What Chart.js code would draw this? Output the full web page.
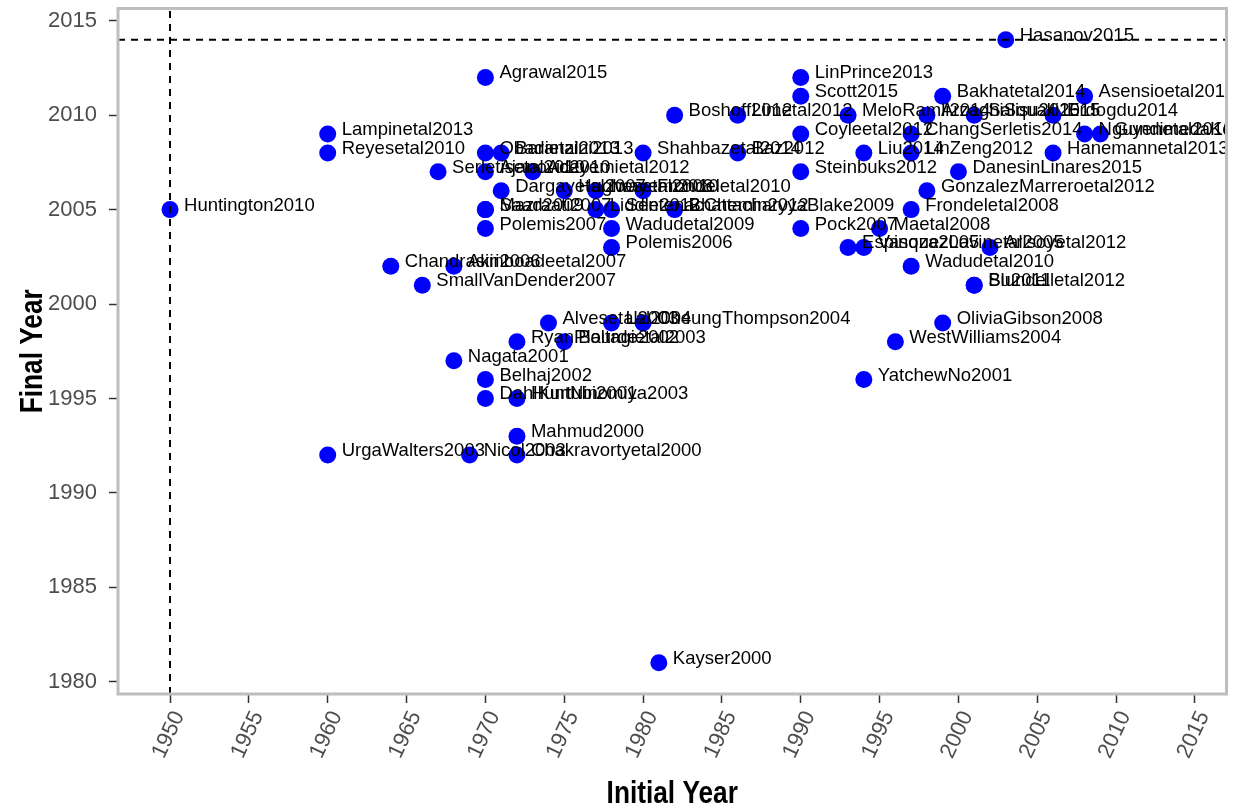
<!DOCTYPE html>
<html>
<head>
<meta charset="utf-8">
<script src="https://cdn.jsdelivr.net/npm/chart.js@4.4.1/dist/chart.umd.min.js"></script>
<style>
  html, body { margin: 0; padding: 0; background: #ffffff; }
  #wrap { width: 1235px; height: 807px; }
</style>
</head>
<body>
<div id="wrap"><canvas id="chart" width="1235" height="807"></canvas></div>
<script>
// Study labels with the first and last year of each study's sample
const studies = [
  "Huntington2010", "Lampinetal2013", "Reyesetal2010", "UrgaWalters2003",
  "Chandrasiri2006", "SmallVanDender2007", "Serletisetal2010", "Nagata2001",
  "Akinboadeetal2007", "Nicol2003", "Agrawal2015", "Obadietal2013",
  "Baranzini2013", "Ajanovic2010", "Saad2009", "Mazraati2007",
  "Polemis2007", "Belhaj2002", "DahlKurtubi2001", "Dargayetal2007",
  "RyanPlourde2002", "HuntNinomiya2003", "Mahmud2000", "Chakravortyetal2000",
  "Adeyemietal2012", "Alvesetal2003", "Baltagietal2003", "Hughesetal2008",
  "Iwayemi2010", "Liddle2012", "SentenacChemin2012", "Wadudetal2009",
  "Polemis2006", "Lal2004", "CheungThompson2004", "Frondeletal2010",
  "Shahbazetal2014", "Kayser2000", "Boshoff2012", "BhattacharyyaBlake2009",
  "Limetal2012", "Baz2012", "LinPrince2013", "Scott2015",
  "Coyleetal2012", "Steinbuks2012", "Pock2007", "MeloRamli2014",
  "Espinoza2005", "VasquezLavinetal2005", "Liu2014", "YatchewNo2001",
  "Maetal2008", "WestWilliams2004", "ChangSerletis2014", "LinZeng2012",
  "Frondeletal2008", "Wadudetal2010", "ArzaghiSqualli2015", "GonzalezMarreroetal2012",
  "Bakhatetal2014", "OliviaGibson2008", "DanesinLinares2015", "Salisu2015",
  "Su2011", "Blundelletal2012", "Arisoyetal2012", "Hasanov2015",
  "Erdogdu2014", "Hanemannetal2013", "Asensioetal2014", "Nguyenetal2010",
  "GundimedaKöhlin2008"
];
const initialYear = [
  1950, 1960, 1960, 1960,
  1964, 1966, 1967, 1968,
  1968, 1969, 1970, 1970,
  1971, 1970, 1970, 1970,
  1970, 1970, 1970, 1971,
  1972, 1972, 1972, 1972,
  1973, 1974, 1975, 1975,
  1977, 1977, 1978, 1978,
  1978, 1978, 1980, 1980,
  1980, 1981, 1982, 1982,
  1986, 1986, 1990, 1990,
  1990, 1990, 1990, 1993,
  1993, 1994, 1994, 1994,
  1995, 1996, 1997, 1997,
  1997, 1997, 1998, 1998,
  1999, 1999, 2000, 2001,
  2001, 2001, 2002, 2003,
  2006, 2006, 2008, 2008,
  2009
];
const finalYear = [
  2005, 2009, 2008, 1992,
  2002, 2001, 2007, 1997,
  2002, 1992, 2012, 2008,
  2008, 2007, 2005, 2005,
  2004, 1996, 1995, 2006,
  1998, 1995, 1993, 1992,
  2007, 1999, 1998, 2006,
  2006, 2005, 2005, 2004,
  2003, 1999, 1999, 2006,
  2008, 1981, 2010, 2005,
  2010, 2008, 2012, 2011,
  2009, 2007, 2004, 2010,
  2003, 2003, 2008, 1996,
  2004, 1998, 2009, 2008,
  2005, 2002, 2010, 2006,
  2011, 1999, 2007, 2010,
  2001, 2001, 2003, 2014,
  2010, 2008, 2011, 2009,
  2009
];

const xTicks = [1950, 1955, 1960, 1965, 1970, 1975, 1980, 1985, 1990, 1995, 2000, 2005, 2010, 2015];
const yTicks = [1980, 1985, 1990, 1995, 2000, 2005, 2010, 2015];
const xRange = [1946.7, 2017];
const yRange = [1979.35, 2015.65];

// Dashed reference lines
const refInitialYear = 1950;
const refFinalYear = 2014;

const xTitle = 'Initial Year';
const yTitle = 'Final Year';

const points = initialYear.map((x, i) => ({ x: x, y: finalYear[i] }));

const labelFont = '18.5px "Liberation Sans", Arial, sans-serif';
const titleFont = 'bold 32px "Liberation Sans", Arial, sans-serif';

// draws a bold, horizontally condensed axis title centred on (cx, cy)
function drawTitle(ctx, text, cx, cy, angle) {
  ctx.save();
  ctx.translate(cx, cy);
  ctx.rotate(angle);
  ctx.scale(0.82, 1);
  ctx.font = titleFont;
  ctx.fillStyle = '#000000';
  ctx.textAlign = 'center';
  ctx.textBaseline = 'middle';
  ctx.fillText(text, 0, 0);
  ctx.restore();
}

const annotate = {
  id: 'annotate',
  afterDatasetsDraw(chart) {
    const { ctx, chartArea: a, scales: { x, y } } = chart;
    const meta = chart.getDatasetMeta(0);

    ctx.save();
    ctx.beginPath();
    ctx.rect(a.left, a.top, a.right - a.left, a.bottom - a.top);
    ctx.clip();

    // study names beside each point
    ctx.font = labelFont;
    ctx.fillStyle = '#000000';
    ctx.textAlign = 'left';
    ctx.textBaseline = 'alphabetic';
    meta.data.forEach((el, i) => {
      ctx.fillText(studies[i], el.x + 14, el.y + 1);
    });

    // reference lines
    ctx.strokeStyle = '#000000';
    ctx.lineWidth = 2;
    ctx.setLineDash([7, 6]);
    const vx = x.getPixelForValue(refInitialYear);
    ctx.beginPath();
    ctx.moveTo(vx, a.bottom);
    ctx.lineTo(vx, a.top);
    ctx.stroke();
    const hy = y.getPixelForValue(refFinalYear);
    ctx.beginPath();
    ctx.moveTo(a.left, hy);
    ctx.lineTo(a.right, hy);
    ctx.stroke();
    ctx.restore();

    // panel border
    ctx.save();
    ctx.strokeStyle = '#BEBEBE';
    ctx.lineWidth = 3;
    ctx.strokeRect(a.left, a.top, a.right - a.left, a.bottom - a.top);
    ctx.restore();
  },
  afterDraw(chart) {
    const { ctx, chartArea: a } = chart;
    drawTitle(ctx, xTitle, (a.left + a.right) / 2, 794, 0);
    drawTitle(ctx, yTitle, 33, (a.top + a.bottom) / 2, -Math.PI / 2);
  }
};

const tickFont = { family: '"Liberation Sans", Arial, sans-serif', size: 22 };

new Chart(document.getElementById('chart'), {
  type: 'scatter',
  data: {
    datasets: [{
      data: points,
      backgroundColor: '#0000FF',
      borderWidth: 0,
      pointRadius: 8.5,
      pointHoverRadius: 8.5
    }]
  },
  options: {
    responsive: false,
    animation: false,
    devicePixelRatio: 1,
    layout: { padding: { top: 6, right: 7, left: 0, bottom: 0 } },
    plugins: { legend: { display: false }, tooltip: { enabled: false } },
    scales: {
      x: {
        type: 'linear',
        min: xRange[0],
        max: xRange[1],
        afterBuildTicks: s => { s.ticks = xTicks.map(v => ({ value: v })); },
        afterFit: s => { s.height = 113; s.paddingLeft = 0; s.paddingRight = 0; },
        border: { display: false },
        grid: {
          drawOnChartArea: false,
          drawTicks: true,
          tickLength: 9,
          tickColor: '#333333',
          tickWidth: 1.5
        },
        ticks: {
          autoSkip: false,
          minRotation: 65,
          maxRotation: 65,
          padding: 4,
          labelOffset: 9,
          color: '#4D4D4D',
          font: tickFont,
          callback: v => String(v)
        },
        title: { display: false }
      },
      y: {
        type: 'linear',
        min: yRange[0],
        max: yRange[1],
        afterBuildTicks: s => { s.ticks = yTicks.map(v => ({ value: v })); },
        afterFit: s => { s.width = 118; s.paddingTop = 0; s.paddingBottom = 0; },
        border: { display: false },
        grid: {
          drawOnChartArea: false,
          drawTicks: true,
          tickLength: 9,
          tickColor: '#333333',
          tickWidth: 1.5
        },
        ticks: {
          padding: 12,
          color: '#4D4D4D',
          font: tickFont,
          callback: v => String(v)
        },
        title: { display: false }
      }
    }
  },
  plugins: [annotate]
});
</script>
</body>
</html>
